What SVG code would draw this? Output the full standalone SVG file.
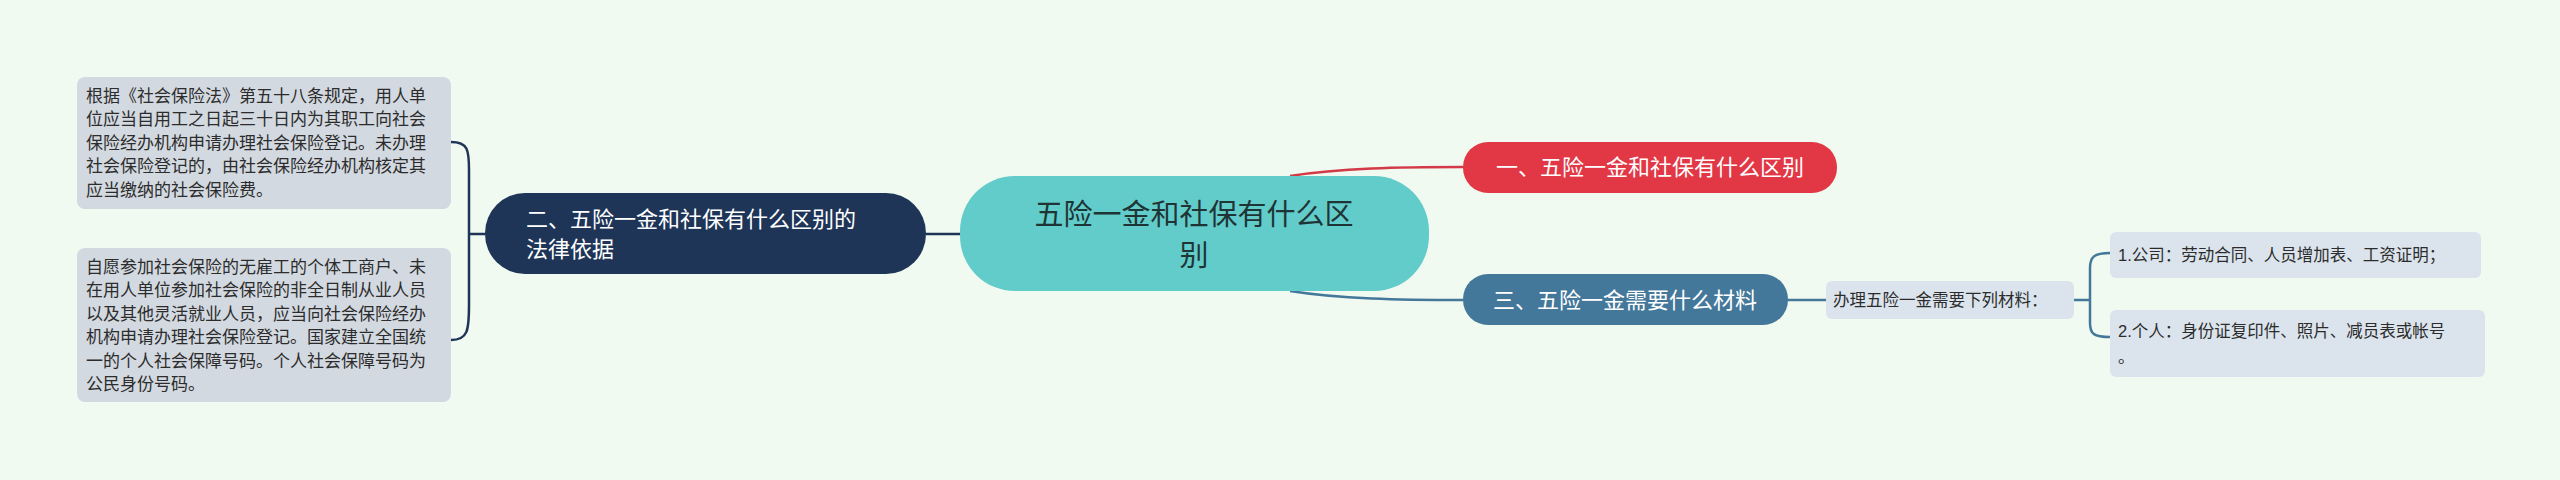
<svg xmlns="http://www.w3.org/2000/svg" width="2560" height="480" viewBox="0 0 2560 480">
<style>
text{font-family:"Liberation Sans","Noto Sans CJK SC",sans-serif}
.g{fill:#d3d9e0}
.l{fill:#dbe4ec}
.t{font-size:17px;fill:#2c2c2c}
.c{fill:none;stroke-width:2.5}
</style>
<rect width="2560" height="480" fill="#f1faf0"/>
<g id="connectors">
<path class="c" stroke="#1e3557" d="M926 234H960M485 234H469M451 142C468 142 469 150 469 170V305C469 330 468 340 451 340"/>
<path class="c" stroke="#d33a47" d="M1290 176C1340 168 1400 167 1463 167"/>
<path class="c" stroke="#44789a" d="M1290 291C1340 299 1400 300 1463 300M1788 300H1826M2074 300H2090M2110 253C2094 253 2090 257 2090 268V323C2090 334 2094 337 2110 337"/>
</g>
<g id="n1"><rect class="g" x="77" y="77" width="374" height="132" rx="8"/>
<text class="t"><tspan x="86" y="102">根据《社会保险法》第五十八条规定，用人单</tspan><tspan x="86" y="125">位应当自用工之日起三十日内为其职工向社会</tspan><tspan x="86" y="149">保险经办机构申请办理社会保险登记。未办理</tspan><tspan x="86" y="172">社会保险登记的，由社会保险经办机构核定其</tspan><tspan x="86" y="196">应当缴纳的社会保险费。</tspan></text></g>
<g id="n2"><rect class="g" x="77" y="248" width="374" height="154" rx="8"/>
<text class="t"><tspan x="86" y="273">自愿参加社会保险的无雇工的个体工商户、未</tspan><tspan x="86" y="296">在用人单位参加社会保险的非全日制从业人员</tspan><tspan x="86" y="320">以及其他灵活就业人员，应当向社会保险经办</tspan><tspan x="86" y="343">机构申请办理社会保险登记。国家建立全国统</tspan><tspan x="86" y="367">一的个人社会保障号码。个人社会保障号码为</tspan><tspan x="86" y="390">公民身份号码。</tspan></text></g>
<g id="n3"><rect x="485" y="193" width="441" height="81" rx="40" fill="#1e3557"/>
<text font-size="22" fill="#fff"><tspan x="526" y="227">二、五险一金和社保有什么区别的</tspan><tspan x="526" y="257">法律依据</tspan></text></g>
<g id="center"><rect x="960" y="176" width="469" height="115" rx="55" fill="#62cccb"/>
<text font-size="29" fill="#1f3535" text-anchor="middle"><tspan x="1194" y="225">五险一金和社保有什么区</tspan><tspan x="1194" y="266">别</tspan></text></g>
<g id="r1"><rect x="1463" y="142" width="374" height="51" rx="25" fill="#e23745"/>
<text x="1650" y="175" font-size="22" fill="#fff" text-anchor="middle">一、五险一金和社保有什么区别</text></g>
<g id="r3"><rect x="1463" y="274" width="325" height="51" rx="25" fill="#44789a"/>
<text x="1625" y="308" font-size="22" fill="#fff" text-anchor="middle">三、五险一金需要什么材料</text></g>
<g id="m"><rect class="l" x="1826" y="281" width="248" height="38" rx="6"/>
<text x="1833" y="306" font-size="16.5" fill="#2c2c2c">办理五险一金需要下列材料：</text></g>
<g id="i1"><rect class="l" x="2110" y="232" width="371" height="46" rx="6"/>
<text x="2118" y="261" font-size="16.5" fill="#2c2c2c">1.公司：劳动合同、人员增加表、工资证明；</text></g>
<g id="i2"><rect class="l" x="2110" y="310" width="375" height="67" rx="6"/>
<text font-size="16.5" fill="#2c2c2c"><tspan x="2118" y="337">2.个人：身份证复印件、照片、减员表或帐号</tspan><tspan x="2118" y="363">。</tspan></text></g>
</svg>
